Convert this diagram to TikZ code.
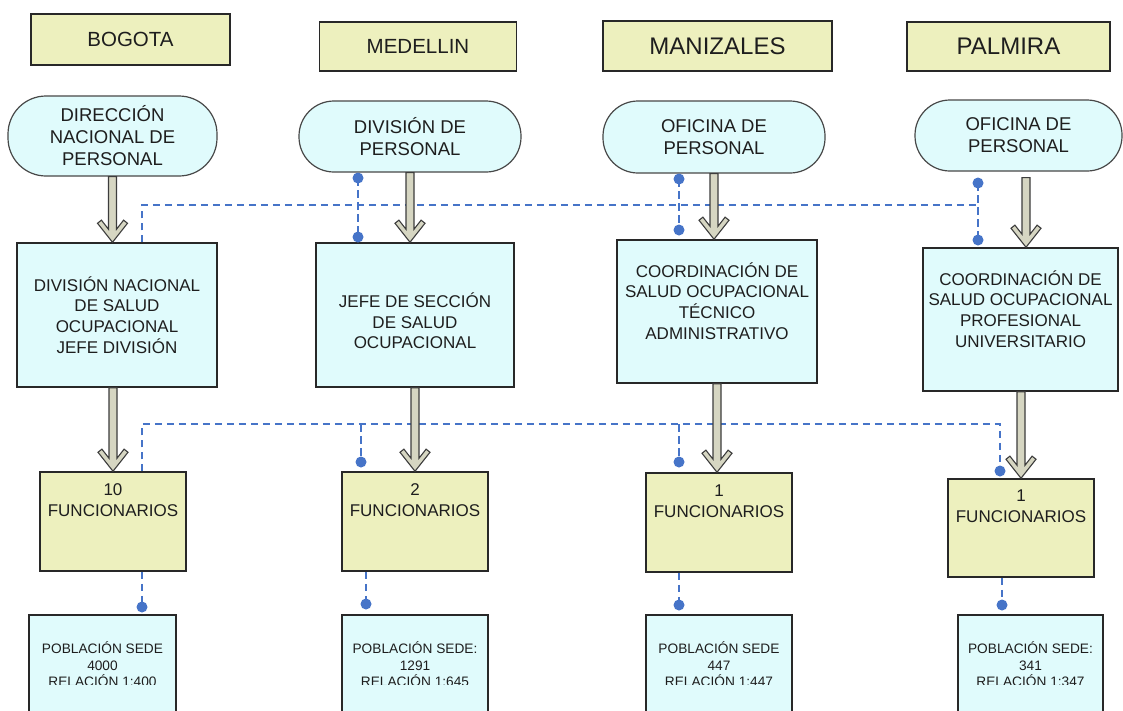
\documentclass[tikz,border=0pt]{standalone}
\usepackage{fontspec}
\setmainfont{Liberation Sans}
\usetikzlibrary{calc}

\definecolor{boxyellow}{RGB}{237,240,190}
\definecolor{boxcyan}{RGB}{224,251,252}
\definecolor{edge}{RGB}{40,40,40}
\definecolor{linkblue}{RGB}{70,116,200}
\definecolor{shaftfill}{RGB}{214,214,194}
\definecolor{ink}{RGB}{30,30,30}

% Hollow block arrow pointing down: #1 start point, #2 tip point
\newcommand\sdarrow[2]{%
  \draw[shaft] let \p1=#1, \p2=#2 in
    (\x1-4pt,\y1) -- (\x1-4pt,\y2+13pt) -- (\x1-11.1pt,\y2+22.1pt)
    -- (\x1-15pt,\y2+19pt) -- (\x1,\y2) -- (\x1+15pt,\y2+19pt)
    -- (\x1+11.1pt,\y2+22.1pt) -- (\x1+4pt,\y2+13pt) -- (\x1+4pt,\y1) -- cycle;}

\begin{document}
\begin{tikzpicture}[x=1pt,y=-1pt,
  every node/.style={text=ink},
  hdr/.style={draw=edge, line width=1.5pt, fill=boxyellow, inner sep=0pt,
    font=\fontsize{20.5}{24}\selectfont},
  hdrbig/.style={hdr, font=\fontsize{24}{28}\selectfont},
  pill/.style={draw=edge!85, line width=1.2pt, fill=boxcyan, inner sep=0pt,
    rounded corners=35pt, align=center, font=\fontsize{18.5}{22}\selectfont},
  unit/.style={draw=edge, line width=1.5pt, fill=boxcyan, inner sep=0pt,
    align=center, font=\fontsize{17}{20.7}\selectfont},
  staff/.style={draw=edge, line width=1.5pt, fill=boxyellow, inner sep=0pt},
  popbox/.style={draw=edge, line width=1.5pt, fill=boxcyan, inner sep=0pt},
  lbl/.style={align=center, inner sep=0pt, font=\fontsize{17}{20.7}\selectfont},
  stafflbl/.style={align=center, inner sep=0pt, font=\fontsize{17}{21}\selectfont},
  poplbl/.style={align=center, inner sep=0pt, font=\fontsize{13.7}{16.5}\selectfont},
  link/.style={draw=linkblue, line width=1.3pt, dash pattern=on 7.5pt off 4.5pt},
  dot/.style={fill=linkblue},
  shaft/.style={fill=shaftfill, draw=edge!90, line width=1.1pt, line join=miter},
]
\clip (0,0) rectangle (1123,710);
\fill[white] (0,0) rectangle (1123,710);

% city headers
\node[hdr, minimum width=199pt, minimum height=51pt] (hb) at (130.5,39.5) {BOGOTA};
\node[hdr, minimum width=197pt, minimum height=49pt] (hm) at (418,46.5) {MEDELLIN};
\node[hdrbig, minimum width=229pt, minimum height=50pt] (hz) at (717.5,46) {MANIZALES};
\node[hdrbig, minimum width=203pt, minimum height=49pt] (hp) at (1008.5,46.5) {PALMIRA};

% personnel offices
\node[pill, rounded corners=38pt, minimum width=209pt, minimum height=80pt] (p1) at (112.5,136)
  {DIRECCIÓN\\NACIONAL DE\\PERSONAL};
\node[pill, minimum width=222pt, minimum height=71pt] (p2) at (410,136.5) {DIVISIÓN DE\\PERSONAL};
\node[pill, minimum width=222pt, minimum height=72pt] (p3) at (714,137) {OFICINA DE\\PERSONAL};
\node[pill, minimum width=207pt, minimum height=71pt] (p4) at (1018.5,135.5) {OFICINA DE\\PERSONAL};

% occupational health units
\node[unit, minimum width=200pt, minimum height=144pt] (b1) at (117,315) {};
\node[unit, minimum width=198pt, minimum height=144pt] (b2) at (415,315) {};
\node[unit, minimum width=200pt, minimum height=143pt] (b3) at (717,311.5) {};
\node[unit, minimum width=195pt, minimum height=143pt] (b4) at (1020.5,319.5) {};
\node[lbl] (b1t) at (b1.center) {DIVISIÓN NACIONAL\\DE SALUD\\OCUPACIONAL\\JEFE DIVISIÓN};
\node[lbl] (b2t) at ([yshift=-6pt]b2.center) {JEFE DE SECCIÓN\\DE SALUD\\OCUPACIONAL};
\node[lbl] (b3t) at ([yshift=10.5pt]b3.center) {COORDINACIÓN DE\\SALUD OCUPACIONAL\\TÉCNICO\\ADMINISTRATIVO};
\node[lbl] (b4t) at ([yshift=10.5pt]b4.center) {COORDINACIÓN DE\\SALUD OCUPACIONAL\\PROFESIONAL\\UNIVERSITARIO};

% staff boxes
\node[staff, minimum width=146pt, minimum height=99pt] (f1) at (113,521.5) {};
\node[staff, minimum width=146pt, minimum height=99pt] (f2) at (415,521.5) {};
\node[staff, minimum width=146pt, minimum height=99pt] (f3) at (719,522.5) {};
\node[staff, minimum width=146pt, minimum height=98pt] (f4) at (1021,528) {};
\node[stafflbl] (f1t) at ([yshift=-29pt]f1.north) {10\\FUNCIONARIOS};
\node[stafflbl] (f2t) at ([yshift=-28.5pt]f2.north) {2\\FUNCIONARIOS};
\node[stafflbl] (f3t) at ([yshift=-28.5pt]f3.north) {1\\FUNCIONARIOS};
\node[stafflbl] (f4t) at ([yshift=-27.5pt]f4.north) {1\\FUNCIONARIOS};

% population boxes
\node[popbox, minimum width=147pt, minimum height=110pt] (s1) at (102.5,670) {};
\node[popbox, minimum width=146pt, minimum height=110pt] (s2) at (415,670) {};
\node[popbox, minimum width=146pt, minimum height=110pt] (s3) at (719,670) {};
\node[popbox, minimum width=145pt, minimum height=110pt] (s4) at (1030.5,670) {};
\begin{scope}
  \clip (0,0) rectangle (1123,684.5);
  \node[poplbl] (s1t) at ([yshift=-50pt]s1.north) {POBLACIÓN SEDE\\4000\\RELACIÓN 1:400};
  \node[poplbl] (s2t) at ([yshift=-50pt]s2.north) {POBLACIÓN SEDE:\\1291\\RELACIÓN 1:645};
  \node[poplbl] (s3t) at ([yshift=-50pt]s3.north) {POBLACIÓN SEDE\\447\\RELACIÓN 1:447};
  \node[poplbl] (s4t) at ([yshift=-50pt]s4.north) {POBLACIÓN SEDE:\\341\\RELACIÓN 1:347};
\end{scope}

% junction points of the dashed links
\coordinate (u1) at (142,205);
\coordinate (u4) at (978,205);
\coordinate (d2a) at (358,178);
\coordinate (d2b) at (358,237);
\coordinate (d3a) at (679,179);
\coordinate (d3b) at (679,230);
\coordinate (d4a) at (978,183);
\coordinate (d4b) at (978,240);
\coordinate (l1) at (142,424);
\coordinate (l2) at (361,424);
\coordinate (l3) at (679,424);
\coordinate (l4) at (1000,424);
\coordinate (e2) at (361,462);
\coordinate (e3) at (679,462);
\coordinate (e4) at (1000,471);
\coordinate (g1) at (142,607);
\coordinate (g2) at (366,604);
\coordinate (g3) at (679,605);
\coordinate (g4) at (1002,605);

% dashed links
\draw[link] (b1.north -| u1) -- (u1) -- (u4);
\draw[link] (d2a) -- (d2b);
\draw[link] (d3a) -- (d3b);
\draw[link] (d4a) -- (d4b);
\draw[link] (f1.north -| l1) -- (l1) -- (l4) -- (e4);
\draw[link] (l2) -- (e2);
\draw[link] (l3) -- (e3);
\draw[link] (f1.south -| g1) -- (g1);
\draw[link] (f2.south -| g2) -- (g2);
\draw[link] (f3.south -| g3) -- (g3);
\draw[link] (f4.south -| g4) -- (g4);
\foreach \c in {d2a,d2b,d3a,d3b,d4a,d4b,e2,e3,e4,g1,g2,g3,g4}
  \fill[dot] (\c) circle (5.5pt);

% hierarchy arrows
\coordinate (a4top) at ([xshift=7.5pt,yshift=-6pt]p4.south);
\sdarrow{(p1.south)}{(p1.south |- b1.north)}
\sdarrow{(f1.north |- b1.south)}{(f1.north)}
\sdarrow{(p2.south)}{(p2.south |- b2.north)}
\sdarrow{(b2.south)}{(b2.south |- f2.north)}
\sdarrow{(p3.south)}{(p3.south |- b3.north)}
\sdarrow{(b3.south)}{(b3.south |- f3.north)}
\sdarrow{(a4top)}{(a4top |- b4.north)}
\sdarrow{(f4.north |- b4.south)}{(f4.north)}
\end{tikzpicture}
\end{document}
